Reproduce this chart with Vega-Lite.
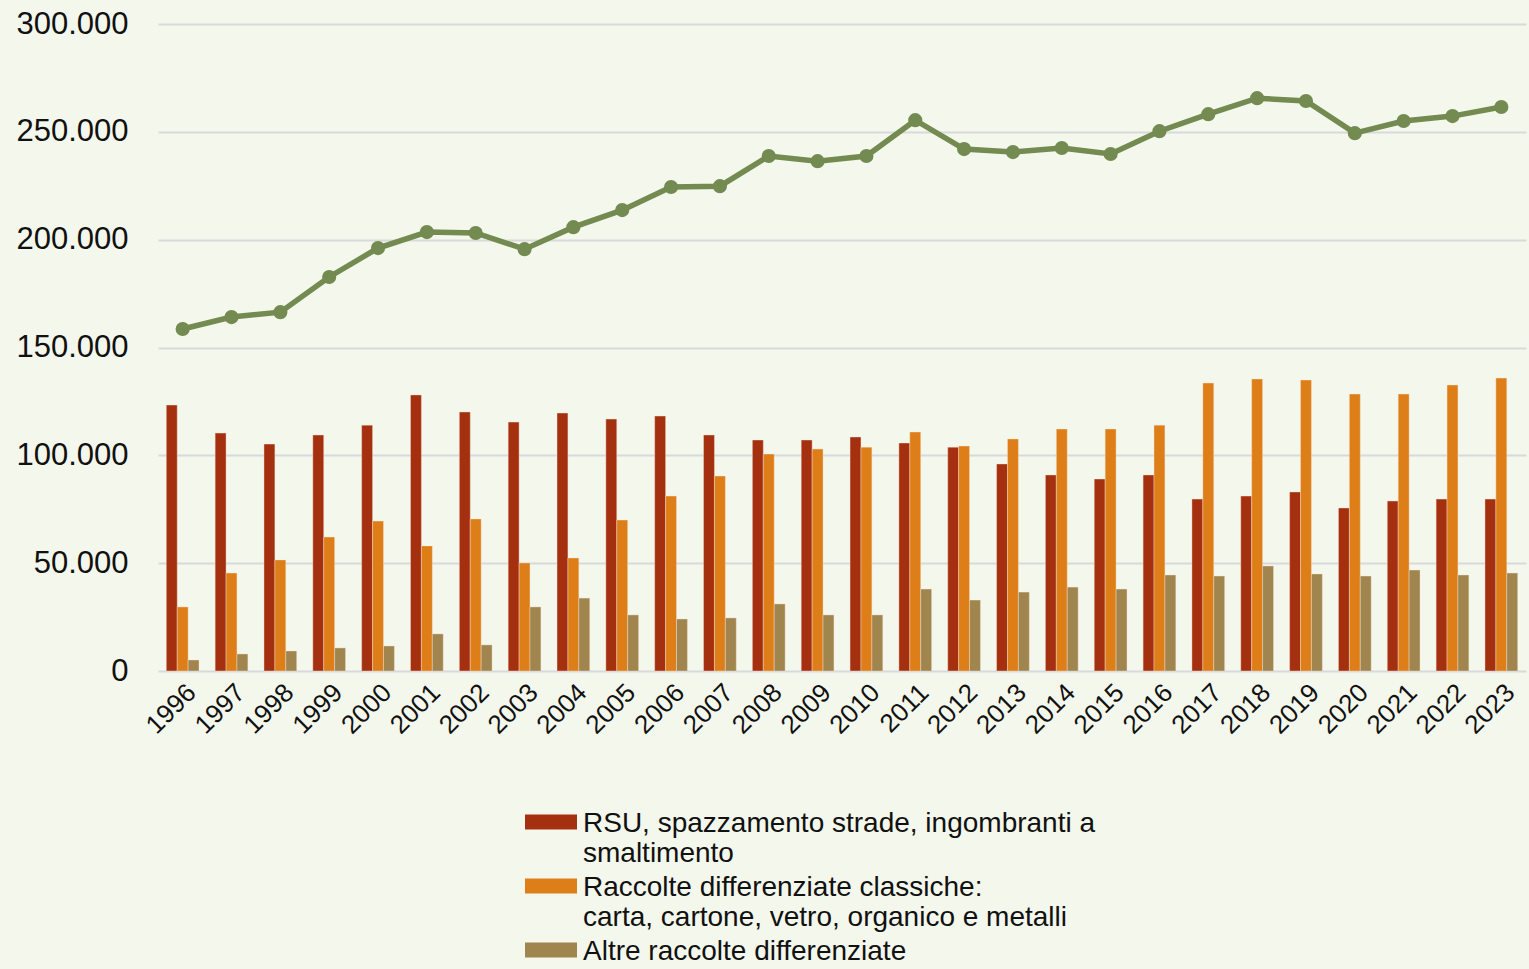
{
  "$schema": "https://vega.github.io/schema/vega-lite/v6.json",
  "width": 1368,
  "height": 647,
  "autosize": {"type": "none"},
  "padding": {"left": 158, "top": 24, "right": 3, "bottom": 298},
  "background": "#f4f7ec",
  "config": {
    "view": {"stroke": null},
    "font": "Liberation Sans"
  },
  "datasets": {
    "bars": [
      {"year": "1996", "cat": "a", "value": 123300}, {"year": "1996", "cat": "b", "value": 29700}, {"year": "1996", "cat": "c", "value": 5100},
      {"year": "1997", "cat": "a", "value": 110300}, {"year": "1997", "cat": "b", "value": 45400}, {"year": "1997", "cat": "c", "value": 7900},
      {"year": "1998", "cat": "a", "value": 105200}, {"year": "1998", "cat": "b", "value": 51500}, {"year": "1998", "cat": "c", "value": 9300},
      {"year": "1999", "cat": "a", "value": 109400}, {"year": "1999", "cat": "b", "value": 62100}, {"year": "1999", "cat": "c", "value": 10700},
      {"year": "2000", "cat": "a", "value": 114000}, {"year": "2000", "cat": "b", "value": 69500}, {"year": "2000", "cat": "c", "value": 11600},
      {"year": "2001", "cat": "a", "value": 128000}, {"year": "2001", "cat": "b", "value": 58000}, {"year": "2001", "cat": "c", "value": 17200},
      {"year": "2002", "cat": "a", "value": 120100}, {"year": "2002", "cat": "b", "value": 70500}, {"year": "2002", "cat": "c", "value": 12100},
      {"year": "2003", "cat": "a", "value": 115400}, {"year": "2003", "cat": "b", "value": 50100}, {"year": "2003", "cat": "c", "value": 29700},
      {"year": "2004", "cat": "a", "value": 119600}, {"year": "2004", "cat": "b", "value": 52400}, {"year": "2004", "cat": "c", "value": 33800},
      {"year": "2005", "cat": "a", "value": 116800}, {"year": "2005", "cat": "b", "value": 70000}, {"year": "2005", "cat": "c", "value": 26000},
      {"year": "2006", "cat": "a", "value": 118200}, {"year": "2006", "cat": "b", "value": 81100}, {"year": "2006", "cat": "c", "value": 24100},
      {"year": "2007", "cat": "a", "value": 109400}, {"year": "2007", "cat": "b", "value": 90400}, {"year": "2007", "cat": "c", "value": 24600},
      {"year": "2008", "cat": "a", "value": 107100}, {"year": "2008", "cat": "b", "value": 100600}, {"year": "2008", "cat": "c", "value": 31100},
      {"year": "2009", "cat": "a", "value": 107100}, {"year": "2009", "cat": "b", "value": 102900}, {"year": "2009", "cat": "c", "value": 26000},
      {"year": "2010", "cat": "a", "value": 108500}, {"year": "2010", "cat": "b", "value": 103800}, {"year": "2010", "cat": "c", "value": 26000},
      {"year": "2011", "cat": "a", "value": 105700}, {"year": "2011", "cat": "b", "value": 110800}, {"year": "2011", "cat": "c", "value": 38000},
      {"year": "2012", "cat": "a", "value": 103800}, {"year": "2012", "cat": "b", "value": 104300}, {"year": "2012", "cat": "c", "value": 32900},
      {"year": "2013", "cat": "a", "value": 96000}, {"year": "2013", "cat": "b", "value": 107600}, {"year": "2013", "cat": "c", "value": 36600},
      {"year": "2014", "cat": "a", "value": 90900}, {"year": "2014", "cat": "b", "value": 112200}, {"year": "2014", "cat": "c", "value": 38900},
      {"year": "2015", "cat": "a", "value": 89000}, {"year": "2015", "cat": "b", "value": 112200}, {"year": "2015", "cat": "c", "value": 38000},
      {"year": "2016", "cat": "a", "value": 90900}, {"year": "2016", "cat": "b", "value": 114000}, {"year": "2016", "cat": "c", "value": 44500},
      {"year": "2017", "cat": "a", "value": 79700}, {"year": "2017", "cat": "b", "value": 133500}, {"year": "2017", "cat": "c", "value": 44000},
      {"year": "2018", "cat": "a", "value": 81100}, {"year": "2018", "cat": "b", "value": 135400}, {"year": "2018", "cat": "c", "value": 48700},
      {"year": "2019", "cat": "a", "value": 83000}, {"year": "2019", "cat": "b", "value": 134900}, {"year": "2019", "cat": "c", "value": 45000},
      {"year": "2020", "cat": "a", "value": 75600}, {"year": "2020", "cat": "b", "value": 128400}, {"year": "2020", "cat": "c", "value": 44000},
      {"year": "2021", "cat": "a", "value": 78800}, {"year": "2021", "cat": "b", "value": 128400}, {"year": "2021", "cat": "c", "value": 46800},
      {"year": "2022", "cat": "a", "value": 79700}, {"year": "2022", "cat": "b", "value": 132600}, {"year": "2022", "cat": "c", "value": 44500},
      {"year": "2023", "cat": "a", "value": 79700}, {"year": "2023", "cat": "b", "value": 135800}, {"year": "2023", "cat": "c", "value": 45400}
    ],
    "totals": [
      {"year": "1996", "total": 158600}, {"year": "1997", "total": 164100}, {"year": "1998", "total": 166400},
      {"year": "1999", "total": 182700}, {"year": "2000", "total": 196100}, {"year": "2001", "total": 203500},
      {"year": "2002", "total": 203100}, {"year": "2003", "total": 195600}, {"year": "2004", "total": 205800},
      {"year": "2005", "total": 213700}, {"year": "2006", "total": 224400}, {"year": "2007", "total": 224800},
      {"year": "2008", "total": 238800}, {"year": "2009", "total": 236400}, {"year": "2010", "total": 238800},
      {"year": "2011", "total": 255400}, {"year": "2012", "total": 242000}, {"year": "2013", "total": 240600},
      {"year": "2014", "total": 242500}, {"year": "2015", "total": 239700}, {"year": "2016", "total": 250300},
      {"year": "2017", "total": 258200}, {"year": "2018", "total": 265600}, {"year": "2019", "total": 264300},
      {"year": "2020", "total": 249400}, {"year": "2021", "total": 255000}, {"year": "2022", "total": 257300},
      {"year": "2023", "total": 261500}
    ]
  },
  "encoding": {
    "x": {
      "field": "year", "type": "nominal", "title": null,
      "scale": {"paddingInner": 0.33, "paddingOuter": 0.17},
      "axis": {
        "labelAngle": -45, "labelFontSize": 26, "labelColor": "#111111",
        "labelPadding": 8, "ticks": false, "domain": false, "grid": false
      }
    }
  },
  "layer": [
    {
      "data": {"name": "bars"},
      "mark": {"type": "bar", "stroke": "#f5e6d6", "strokeOpacity": 0.5, "strokeWidth": 0.8},
      "encoding": {
        "xOffset": {"field": "cat", "type": "nominal", "scale": {"paddingInner": 0, "paddingOuter": 0}},
        "y": {
          "field": "value", "type": "quantitative", "title": null,
          "scale": {"domain": [0, 300000], "nice": false},
          "axis": {
            "values": [0, 50000, 100000, 150000, 200000, 250000, 300000],
            "labelExpr": "replace(format(datum.value, ','), ',', '.')",
            "labelFontSize": 31, "labelColor": "#111111", "labelPadding": 30,
            "ticks": false, "domain": false,
            "grid": true, "gridColor": "#d9d9d9", "gridWidth": 2
          }
        },
        "color": {
          "field": "cat", "type": "nominal",
          "scale": {"domain": ["a", "b", "c"], "range": ["#a5300f", "#de7e18", "#a0854f"]},
          "legend": {
            "title": null,
            "orient": "none",
            "legendX": 367,
            "legendY": 782,
            "padding": 0,
            "labelExpr": "datum.label == 'a' ? ['RSU, spazzamento strade, ingombranti a', 'smaltimento'] : datum.label == 'b' ? ['Raccolte differenziate classiche:', 'carta, cartone, vetro, organico e metalli'] : 'Altre raccolte differenziate'",
            "labelFontSize": 28,
            "labelColor": "#111111",
            "labelLimit": 800,
            "labelOffset": 6,
            "labelBaseline": "alphabetic",
            "symbolType": "M-1,-0.673H1V-0.096H-1Z",
            "symbolSize": 2704,
            "symbolStrokeWidth": 0,
            "symbolOpacity": 1,
            "rowPadding": 2
          }
        }
      }
    },
    {
      "data": {"name": "totals"},
      "mark": {"type": "line", "color": "#738a50", "strokeWidth": 5.5, "point": {"filled": true, "size": 200, "color": "#738a50", "opacity": 1}},
      "encoding": {
        "y": {"field": "total", "type": "quantitative", "scale": {"domain": [0, 300000], "nice": false}}
      }
    }
  ]
}
